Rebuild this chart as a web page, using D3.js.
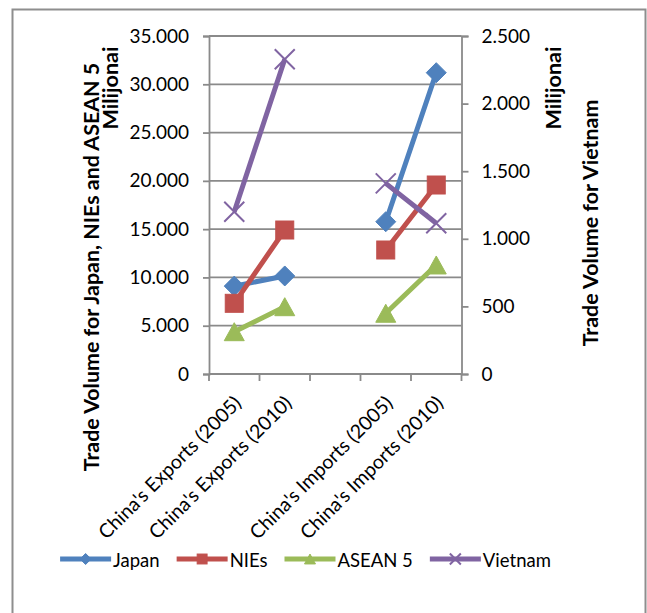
<!DOCTYPE html>
<html>
<head>
<meta charset="utf-8">
<script src="https://cdn.jsdelivr.net/npm/d3@7/dist/d3.min.js"></script>
<style>
  html, body { margin: 0; padding: 0; background: #fff; }
  svg { display: block; font-family: Lato, "Open Sans", sans-serif; }
</style>
</head>
<body>
<svg id="chart" width="647" height="613"></svg>
<script>
// Categories along the x axis (blank slot separates exports from imports)
const categories = ["China's Exports (2005)", "China's Exports (2010)", "", "China's Imports (2005)", "China's Imports (2010)"];

// Trade volumes (left axis)
const japan  = [9100, 10150, null, 15770, 31200];
const nies   = [7320, 14910, null, 12840, 19570];
const asean5 = [4380, 6970, null, 6290, 11290];
// Trade volume (right axis)
const vietnam = [1200, 2328, null, 1410, 1115];

const leftTicks  = [0, 5000, 10000, 15000, 20000, 25000, 30000, 35000];
const rightTicks = [0, 500, 1000, 1500, 2000, 2500];

const seriesNames = ["Japan", "NIEs", "ASEAN 5", "Vietnam"];

const svg = d3.select("#chart");

// chart frame
svg.append("rect")
  .attr("x", 12.5).attr("y", 9.5)
  .attr("width", 633).attr("height", 620)
  .attr("fill", "#fff").attr("stroke", "#8e8e8e").attr("stroke-width", 2);

const plot = { left: 209, right: 461.5, top: 36, bottom: 374 };
const gridColor = "#8a8a8a";

const x = d3.scaleBand().domain(d3.range(categories.length)).range([plot.left, plot.right]);
const yL = d3.scaleLinear().domain([0, 35000]).range([plot.bottom, plot.top]);
const yR = d3.scaleLinear().domain([0, 2500]).range([plot.bottom, plot.top]);

const fmt = d3.formatLocale({ decimal: ",", thousands: ".", grouping: [3], currency: ["", ""] }).format(",d");

// horizontal gridlines
svg.append("g").selectAll("line").data(leftTicks.filter(d => d > 0)).join("line")
  .attr("x1", plot.left).attr("x2", plot.right)
  .attr("y1", d => yL(d)).attr("y2", d => yL(d))
  .attr("stroke", gridColor).attr("stroke-width", 1.8);

// left axis
const axL = svg.append("g").attr("transform", `translate(${plot.left},0)`)
  .call(d3.axisLeft(yL).tickValues(leftTicks).tickFormat(fmt).tickSize(6).tickPadding(14));
// right axis
const axR = svg.append("g").attr("transform", `translate(${plot.right},0)`)
  .call(d3.axisRight(yR).tickValues(rightTicks).tickFormat(fmt).tickSize(7).tickPadding(13));
// bottom axis: ticks on category boundaries
const axB = svg.append("g").attr("transform", `translate(0,${plot.bottom})`);
axB.append("line").attr("x1", plot.left).attr("x2", plot.right)
  .attr("y1", 0).attr("y2", 0).attr("stroke", gridColor).attr("stroke-width", 1.8);
const bounds = d3.range(categories.length + 1).map(i => i < categories.length ? x(i) : x.range()[1]);
axB.selectAll("line.tk").data(bounds).join("line").attr("class", "tk")
  .attr("x1", d => d).attr("x2", d => d).attr("y1", 0).attr("y2", 7)
  .attr("stroke", gridColor).attr("stroke-width", 1.8);

[axL, axR].forEach(g => {
  g.select(".domain").attr("stroke", gridColor).attr("stroke-width", 1.8);
  g.selectAll(".tick line").attr("stroke", gridColor).attr("stroke-width", 1.8);
  g.selectAll(".tick text").attr("font-size", 19).attr("fill", "#000").attr("font-family", "Lato");
});

// category labels, rotated
axB.selectAll("text.cat").data(categories).join("text").attr("class", "cat")
  .attr("transform", (d, i) => `translate(${x(i) + x.bandwidth() / 2 + 3},${25}) rotate(-45)`)
  .attr("text-anchor", "end").attr("dominant-baseline", "central")
  .attr("font-size", 19.5).attr("fill", "#000")
  .text(d => d);

// axis titles and unit labels
function vtext(cx, cy, str, size) {
  svg.append("text")
    .attr("transform", `translate(${cx},${cy}) rotate(-90)`)
    .attr("text-anchor", "middle").attr("dominant-baseline", "central")
    .attr("font-size", size).attr("font-weight", "bold").attr("fill", "#000")
    .text(str);
}
vtext(91, 267, "Trade Volume for Japan, NIEs and ASEAN 5", 21.4);
vtext(110, 88, "Milijonai", 21.6);
vtext(553, 88, "Milijonai", 21.6);
vtext(590, 223, "Trade Volume for Vietnam", 21.4);

// series
const series = [
  { name: seriesNames[0], values: japan,   y: yL, color: "#4F81BD", marker: "diamond" },
  { name: seriesNames[1], values: nies,    y: yL, color: "#C0504D", marker: "square" },
  { name: seriesNames[2], values: asean5,  y: yL, color: "#9BBB59", marker: "triangle" },
  { name: seriesNames[3], values: vietnam, y: yR, color: "#8064A2", marker: "x" }
];

function drawMarker(g, type, cx, cy, color, s) {
  if (type === "diamond") {
    g.append("path").attr("d", `M${cx},${cy - s / 2}L${cx + s / 2},${cy}L${cx},${cy + s / 2}L${cx - s / 2},${cy}Z`)
      .attr("fill", color).attr("stroke", color).attr("stroke-width", 1);
  } else if (type === "square") {
    const a = s * 0.9;
    g.append("rect").attr("x", cx - a / 2).attr("y", cy - a / 2).attr("width", a).attr("height", a)
      .attr("fill", color).attr("stroke", color).attr("stroke-width", 1);
  } else if (type === "triangle") {
    const h = s * 0.9;
    g.append("path").attr("d", `M${cx},${cy - h / 2}L${cx + s / 2},${cy + h / 2}L${cx - s / 2},${cy + h / 2}Z`)
      .attr("fill", color).attr("stroke", color).attr("stroke-width", 1);
  } else {
    const a = s / 2;
    g.append("path").attr("d", `M${cx - a},${cy - a}L${cx + a},${cy + a}M${cx - a},${cy + a}L${cx + a},${cy - a}`)
      .attr("fill", "none").attr("stroke", color).attr("stroke-width", 2);
  }
}

const gS = svg.append("g");
series.forEach(s => {
  const line = d3.line()
    .defined(d => d != null)
    .x((d, i) => x(i) + x.bandwidth() / 2)
    .y(d => s.y(d));
  gS.append("path").datum(s.values).attr("d", line)
    .attr("fill", "none").attr("stroke", s.color).attr("stroke-width", 5)
    .attr("stroke-linejoin", "round");
  s.values.forEach((v, i) => {
    if (v == null) return;
    drawMarker(gS, s.marker, x(i) + x.bandwidth() / 2, s.y(v), s.color, 20);
  });
});

// legend
const legY = 559;
const lg = svg.append("g");
const items = series.map(s => {
  const t = lg.append("text").attr("font-size", 18.5).attr("dominant-baseline", "central")
    .attr("fill", "#000").text(s.name);
  return { s, t, w: t.node().getComputedTextLength() };
});
const lineLen = 51, gapText = 2, gapItem = 17;
const total = d3.sum(items, d => lineLen + gapText + d.w) + gapItem * (items.length - 1);
let lx = 305.5 - total / 2;
items.forEach(d => {
  lg.append("line").attr("x1", lx).attr("x2", lx + lineLen).attr("y1", legY).attr("y2", legY)
    .attr("stroke", d.s.color).attr("stroke-width", 5);
  drawMarker(lg, d.s.marker, lx + lineLen / 2, legY, d.s.color, 11);
  d.t.attr("x", lx + lineLen + gapText).attr("y", legY + 1);
  lx += lineLen + gapText + d.w + gapItem;
});
</script>
</body>
</html>
